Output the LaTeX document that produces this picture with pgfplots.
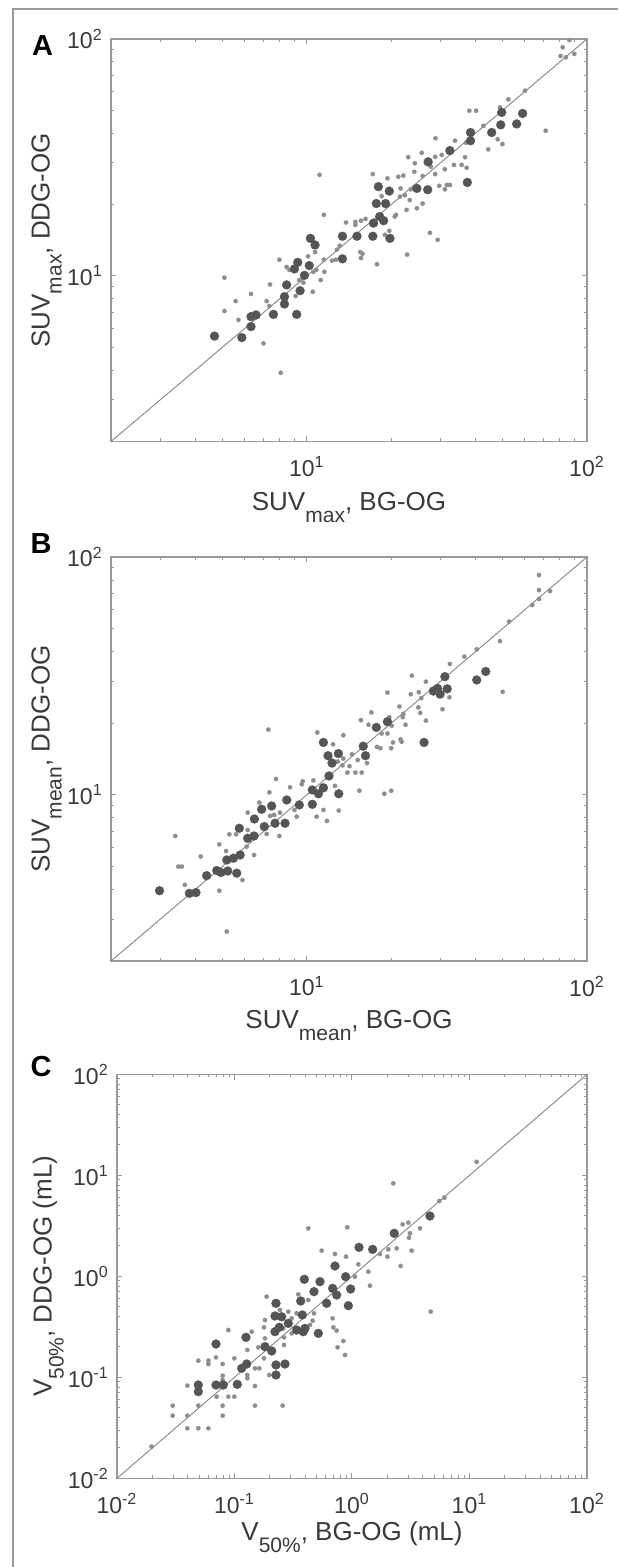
\documentclass[border=0pt]{standalone}
\usepackage{pgfplots}
\pgfplotsset{compat=1.18}
\usepackage{fontspec}
\setmainfont{Liberation Sans}
\definecolor{txt}{HTML}{3A3A3A}
\definecolor{axc}{HTML}{9A9A9A}
\definecolor{bigc}{HTML}{555555}
\definecolor{smlc}{HTML}{8E8E8E}
\definecolor{diagc}{HTML}{858585}
\newcommand{\tlfont}{\fontsize{11.5}{12}\selectfont}
\newcommand{\lbfont}{\fontsize{13}{14}\selectfont}
\newcommand{\lsub}[1]{\raisebox{-6pt}{\fontsize{10.5}{11}\selectfont #1}}
\begin{document}
\begin{tikzpicture}
\path[use as bounding box] (0pt,0pt) rectangle (309pt,783.5pt);
\draw[axc, line width=0.6pt] (6.5pt,0pt) -- (6.5pt,779pt) -- (309pt,779pt);

% ---------------- Panel A
\begin{loglogaxis}[scale only axis, anchor=south west, clip=false,
  at={(55.5pt,562.75pt)}, width=238pt, height=201.25pt,
  axis line style={axc, line width=0.6pt},
  major tick style={axc, line width=0.5pt}, minor tick style={axc, line width=0.5pt},
  tick align=inside, major tick length=2.6pt, minor tick length=1.5pt,
  xticklabel style={font=\tlfont, text=txt, yshift=-4pt}, yticklabel style={font=\tlfont, text=txt, xshift=-0.6pt},
  xmin=2, xmax=100, ymin=2, ymax=100,
  xtick={10,100}, ytick={10,100},
  xticklabels={10\textsuperscript{1},10\textsuperscript{2}},
  yticklabels={10\textsuperscript{1},10\textsuperscript{2}},
  minor xtick={3,4,5,6,7,8,9,20,30,40,50,60,70,80,90},
  minor ytick={3,4,5,6,7,8,9,20,30,40,50,60,70,80,90},
  xlabel={SUV\lsub{max}, BG-OG},
  ylabel={SUV\lsub{max}, DDG-OG},
  xlabel style={font=\lbfont, text=txt, at={(axis description cs:0.5,-0.172)}, anchor=base},
  ylabel style={font=\lbfont, text=txt, at={(axis description cs:-0.129,0.5)}, anchor=base},
]
\addplot[no marks, draw=diagc, line width=0.45pt] coordinates {(2,2) (100,100)};
\addplot[only marks, color=smlc, mark=*, mark size=1.1pt, mark options={fill=smlc, draw=smlc, line width=0.1pt}] coordinates {
(11.1,26.7) (17.2,26.9) (19.4,25.8) (18.5,21.7) (11.5,18.1) (13.8,16.8) (14.9,16.9) (14.9,16.4)
(15.6,17.1) (16.2,17.4) (19.7,15.5) (19.0,14.9) (10.7,12.6) (12.8,12.9) (13.1,13.4) (11.5,11.7)
(12.3,11.6) (12.7,11.7) (15.5,12.6) (15.8,12.4) (15.6,11.9) (17.8,11.2) (7.98,11.7) (8.47,10.9)
(10.1,12.1) (10.55,10.4) (10.8,10.6) (11.55,10.4) (11.2,9.6) (9.4,9.6) (10.5,8.57) (9.12,8.22)
(7.39,9.2) (6.32,8.39) (5.08,9.83) (7.19,7.83) (7.35,7.46) (5.57,7.83) (5.08,7.11) (5.70,6.52)
(7.0,5.19) (8.07,3.90) (9.72,9.36) (8.66,10.6)
(86.5,99) (81.9,92.2) (80.5,84.8) (84.1,83.7) (90.1,86.5) (60.1,60.5) (52.4,55.6) (48.9,51.5)
(38.0,49.8) (40.2,49.8) (42.7,43.0) (48.0,37.7) (49.9,36.0) (44.4,34.2) (71.2,41.0) (28.8,38.1)
(33.8,37.2) (37.0,36.5) (36.7,31.7) (37.2,28.6) (35.7,29.4) (33.5,29.4) (31.1,28.2) (30.3,32.4)
(28.7,31.8) (25.7,33.1) (23.0,31.7) (24.3,29.9) (24.2,27.5) (25.9,26.4) (28.7,26.9) (27.7,28.9)
(31.6,24.2) (32.4,24.2) (29.7,24.0) (31.1,23.2) (22.1,26.5) (21.2,26.2) (21.6,23.4) (22.4,21.9)
(23.5,23.2) (23.3,20.9) (22.7,19.0) (24.7,19.3) (25.9,20.2) (20.8,18.1) (27.5,15.2) (29.3,14.2)
(22.8,12.3) (20.6,17.8) (21.5,21.6)
};
\addplot[only marks, color=bigc, mark=*, mark size=2.25pt, mark options={fill=bigc, draw=bigc, line width=0.1pt}] coordinates {
(4.68,5.57) (5.86,5.49) (6.32,6.11) (6.32,6.73) (6.59,6.84) (7.60,6.88) (9.20,6.88) (8.32,7.61)
(8.32,8.17) (8.47,9.16) (9.46,8.66) (9.80,10.05) (9.03,10.7) (9.28,11.4) (10.2,11.05) (10.3,14.4)
(10.7,13.5) (13.4,14.7) (13.4,11.8) (15.1,14.7) (17.2,14.7) (19.8,14.4) (18.0,23.8) (19.7,22.8)
(17.7,20.2) (19.1,20.2) (17.3,16.7) (18.2,17.8) (18.8,17.1) (27.1,30.3) (32.4,33.8) (38.4,40.3)
(38.4,37.2) (37.4,24.8) (45.7,40.3) (49.2,43.4) (49.6,49.0) (56.1,43.8) (58.9,48.5) (24.7,23.4)
(27.0,23.1)
};
\end{loglogaxis}

% ---------------- Panel B
\begin{loglogaxis}[scale only axis, anchor=south west, clip=false,
  at={(55.5pt,303pt)}, width=238pt, height=202pt,
  axis line style={axc, line width=0.6pt},
  major tick style={axc, line width=0.5pt}, minor tick style={axc, line width=0.5pt},
  tick align=inside, major tick length=2.6pt, minor tick length=1.5pt,
  xticklabel style={font=\tlfont, text=txt, yshift=-4pt}, yticklabel style={font=\tlfont, text=txt, xshift=-0.6pt},
  xmin=2, xmax=100, ymin=2, ymax=100,
  xtick={10,100}, ytick={10,100},
  xticklabels={10\textsuperscript{1},10\textsuperscript{2}},
  yticklabels={10\textsuperscript{1},10\textsuperscript{2}},
  minor xtick={3,4,5,6,7,8,9,20,30,40,50,60,70,80,90},
  minor ytick={3,4,5,6,7,8,9,20,30,40,50,60,70,80,90},
  xlabel={SUV\lsub{mean}, BG-OG},
  ylabel={SUV\lsub{mean}, DDG-OG},
  xlabel style={font=\lbfont, text=txt, at={(axis description cs:0.5,-0.168)}, anchor=base},
  ylabel style={font=\lbfont, text=txt, at={(axis description cs:-0.129,0.5)}, anchor=base},
]
\addplot[no marks, draw=diagc, line width=0.45pt] coordinates {(2,2) (100,100)};
\addplot[only marks, color=smlc, mark=*, mark size=1.1pt, mark options={fill=smlc, draw=smlc, line width=0.1pt}] coordinates {
(7.29,18.8) (10.9,18.3) (13.5,17.8) (12.4,16.3) (13.5,14.2) (12.9,13.8) (13.4,13.3) (13.96,12.4)
(7.76,11.65) (9.67,11.4) (9.59,11.07) (10.55,11.5) (8.71,10.75) (7.35,10.24) (6.77,9.27) (7.39,8.15)
(7.64,8.22) (8.02,8.41) (9.03,8.63) (9.20,8.09) (10.84,8.09) (11.46,8.63) (11.8,7.76) (13.0,8.58)
(6.15,8.41) (5.29,6.82) (5.59,6.82) (6.15,7.11) (7.19,6.84) (7.98,6.71) (4.87,6.19) (5.15,5.80)
(6.10,6.05) (6.48,5.58) (4.18,5.50) (3.39,6.71) (3.48,4.99) (3.58,4.99) (3.67,4.18) (4.87,3.95)
(5.89,4.38) (5.18,2.66) (12.6,10.9) (18.9,10.1) (20.0,10.4) (15.4,10.4) (14.5,14.8) (15.2,14.0)
(14.2,13.2)
(67.4,84.0) (67.4,72.6) (73.8,71.9) (67.4,66.6) (63.8,62.8) (52.7,53.5) (48.9,44.3) (50.0,27.1)
(40.4,40.9) (36.5,38.1) (32.4,35.5) (30.5,22.9) (32.3,25.7) (26.6,29.9) (23.7,31.7) (23.5,26.5)
(25.1,27.0) (25.6,25.5) (25.0,23.3) (26.6,20.5) (25.4,22.1) (21.4,23.5) (22.1,21.9) (22.0,21.2)
(22.5,19.7) (19.4,26.9) (17.0,22.2) (19.7,21.2) (20.1,19.5) (15.6,20.6) (16.6,19.7) (18.5,18.1)
(19.4,18.1) (20.3,16.6) (20.0,15.7) (18.3,15.7) (17.8,15.9) (21.6,17.1) (21.8,16.7) (15.7,12.4)
(14.9,12.4) (16.4,13.6)
};
\addplot[only marks, color=bigc, mark=*, mark size=2.25pt, mark options={fill=bigc, draw=bigc, line width=0.1pt}] coordinates {
(2.98,3.95) (3.81,3.85) (4.02,3.88) (4.39,4.57) (4.77,4.80) (4.94,4.71) (5.22,4.78) (5.62,4.68)
(5.18,5.32) (5.47,5.41) (5.78,5.58) (6.15,6.56) (6.48,6.71) (5.74,7.23) (7.05,7.35) (7.70,7.59)
(8.36,7.59) (6.50,7.91) (6.90,8.69) (7.49,8.97) (8.48,9.51) (9.40,9.06) (10.46,9.12) (10.46,10.48)
(11.46,10.7) (11.0,10.1) (13.0,10.1) (12.0,12.0) (12.3,13.6) (11.9,14.6) (12.96,14.9) (11.46,16.6)
(15.9,16.0) (16.2,14.6) (17.7,19.2) (19.4,20.3) (26.2,16.6) (28.3,27.3) (29.3,28.0) (29.9,26.5)
(31.7,27.9) (31.1,31.4) (40.4,30.4) (43.5,33.0)
};
\end{loglogaxis}

% ---------------- Panel C
\begin{loglogaxis}[scale only axis, anchor=south west, clip=false,
  at={(58.5pt,44.35pt)}, width=235pt, height=202pt,
  axis line style={axc, line width=0.6pt},
  major tick style={axc, line width=0.5pt}, minor tick style={axc, line width=0.5pt},
  tick align=inside, major tick length=2.6pt, minor tick length=1.5pt,
  xticklabel style={font=\tlfont, text=txt, yshift=-4pt}, yticklabel style={font=\tlfont, text=txt, xshift=-0.6pt},
  xmin=0.01, xmax=100, ymin=0.01, ymax=100,
  xtick={0.01,0.1,1,10,100}, ytick={0.01,0.1,1,10,100},
  xticklabels={10\textsuperscript{-2},10\textsuperscript{-1},10\textsuperscript{0},10\textsuperscript{1},10\textsuperscript{2}},
  yticklabels={10\textsuperscript{-2},10\textsuperscript{-1},10\textsuperscript{0},10\textsuperscript{1},10\textsuperscript{2}},
  minor xtick={0.02,0.03,0.04,0.05,0.06,0.07,0.08,0.09,0.2,0.3,0.4,0.5,0.6,0.7,0.8,0.9,2,3,4,5,6,7,8,9,20,30,40,50,60,70,80,90},
  minor ytick={0.02,0.03,0.04,0.05,0.06,0.07,0.08,0.09,0.2,0.3,0.4,0.5,0.6,0.7,0.8,0.9,2,3,4,5,6,7,8,9,20,30,40,50,60,70,80,90},
  xlabel={V\lsub{50\%}, BG-OG (mL)},
  ylabel={V\lsub{50\%}, DDG-OG (mL)},
  xlabel style={font=\lbfont, text=txt, at={(axis description cs:0.5,-0.153)}, anchor=base},
  ylabel style={font=\lbfont, text=txt, at={(axis description cs:-0.139,0.5)}, anchor=base},
]
\addplot[no marks, draw=diagc, line width=0.45pt] coordinates {(0.01,0.01) (100,100)};
\addplot[only marks, color=smlc, mark=*, mark size=1.1pt, mark options={fill=smlc, draw=smlc, line width=0.1pt}] coordinates {
(0.0197,0.0206) (0.0298,0.0524) (0.0298,0.0417) (0.0397,0.0417) (0.0397,0.0313) (0.0492,0.0313)
(0.0599,0.0313) (0.0492,0.0524) (0.0793,0.0524) (0.0793,0.0417) (0.1494,0.0524) (0.257,0.0524)
(0.0397,0.0826) (0.0492,0.1462) (0.0599,0.1462) (0.0599,0.1354) (0.0793,0.1354) (0.0696,0.1576)
(0.0886,0.2939) (0.0997,0.1541) (0.0886,0.0643) (0.0997,0.0643) (0.0793,0.1038) (0.0793,0.094)
(0.0705,0.0643) (0.1286,0.1864) (0.14,0.283) (0.1286,0.1054) (0.1286,0.0977) (0.1494,0.082)
(0.1494,0.1227) (0.1627,0.1227) (0.1783,0.1541) (0.1595,0.198) (0.1818,0.243) (0.1783,0.3126)
(0.1979,0.1054) (0.2637,0.209) (0.2637,0.2487) (0.1878,0.6286) (0.2439,0.4637) (0.287,0.4466)
(0.3494,0.663) (0.4248,0.5826) (0.4748,0.4298) (0.4626,0.3636) (0.3066,0.3836) (0.3066,0.2724)
(0.338,0.4298) (0.439,0.3296) (0.1818,0.369) (0.2603,0.3055)
(11.5,13.6) (2.247,8.33) (0.4248,2.985) (0.912,3.054) (0.552,1.794) (0.7166,1.663) (0.889,1.564)
(2.038,1.849) (2.399,1.892) (2.699,3.27) (3.016,3.397) (3.116,2.664) (3.056,2.413) (3.79,2.985)
(3.22,1.794) (2.0,1.564) (1.73,1.663) (1.132,1.314) (1.377,1.111) (1.423,0.808) (2.595,1.265)
(5.535,5.567) (6.107,6.004) (4.673,0.4466) (0.684,0.3836) (0.694,0.3126) (0.740,0.2897)
(0.844,0.2288) (0.755,0.198) (0.872,0.1663) (1.06,0.992)
};
\addplot[only marks, color=bigc, mark=*, mark size=2.25pt, mark options={fill=bigc, draw=bigc, line width=0.1pt}] coordinates {
(0.0492,0.0839) (0.0492,0.0721) (0.0696,0.2136) (0.0696,0.0839) (0.0803,0.0839) (0.1057,0.0852)
(0.115,0.1227) (0.1269,0.1354) (0.1252,0.2487) (0.1818,0.201) (0.2072,0.1822) (0.2255,0.1324)
(0.2690,0.1354) (0.2255,0.1054) (0.2255,0.540) (0.2211,0.4046) (0.252,0.398) (0.2211,0.2830)
(0.2406,0.3124) (0.287,0.342) (0.338,0.2939) (0.385,0.283) (0.398,0.305) (0.378,0.414)
(0.366,0.5694) (0.393,0.933) (0.4748,0.705) (0.534,0.885) (0.517,0.2724)
(0.7166,1.265) (1.147,1.935) (1.499,1.849) (2.29,2.664) (4.61,3.95) (0.6844,0.760) (0.883,0.992)
(0.7404,0.653) (0.974,0.7486) (0.6087,0.540) (0.931,0.512)
};
\end{loglogaxis}

% panel letters
\node[font=\bfseries\fontsize{14.5}{15}\selectfont, text=black] at (21.25pt,760.5pt) {A};
\node[font=\bfseries\fontsize{14.5}{15}\selectfont, text=black] at (20.5pt,511.5pt) {B};
\node[font=\bfseries\fontsize{14.5}{15}\selectfont, text=black] at (20.5pt,250pt) {C};
\end{tikzpicture}
\end{document}
